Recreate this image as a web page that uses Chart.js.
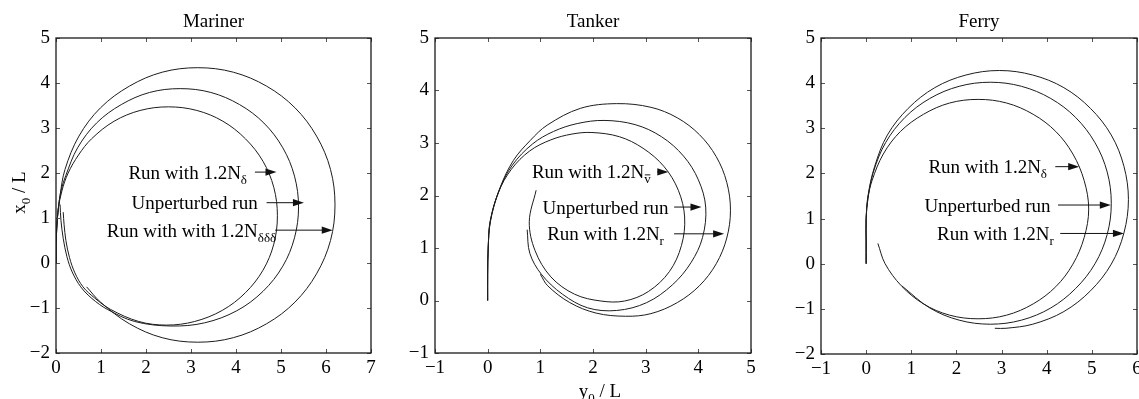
<!DOCTYPE html>
<html>
<head>
<meta charset="utf-8">
<script src="https://cdn.jsdelivr.net/npm/chart.js@4.4.1/dist/chart.umd.min.js"></script>
<style>
  html, body { margin: 0; padding: 0; background: #fff; overflow: hidden; }
  #fig { position: relative; width: 1139px; height: 399px; background: #fff; }
  #fig canvas { position: absolute; left: 0; top: 0; }
</style>
</head>
<body>
<div id="fig">
  <canvas id="mariner" width="1139" height="399"></canvas>
  <canvas id="tanker" width="1139" height="399"></canvas>
  <canvas id="ferry" width="1139" height="399"></canvas>
</div>
<script>
// ---- Turning-circle trajectories: [y0/L, x0/L] pairs ----

// Mariner
const marinerRudder = [[0,0],[0,0.4],[0.02,0.8],[0.05,1.2],[0.13,1.6],[0.27,2.0],[0.5,2.4],[0.79,2.76],[1.29,3.15],[1.87,3.39],[2.5,3.47],[3.13,3.39],[3.71,3.15],[4.21,2.76],[4.6,2.26],[4.84,1.68],[4.92,1.05],[4.84,0.42],[4.6,-0.16],[4.21,-0.66],[3.7,-1.05],[3.08,-1.3],[2.45,-1.38],[1.84,-1.3],[1.21,-1.03],[0.85,-0.77],[0.6,-0.53],[0.42,-0.22],[0.3,0.12],[0.22,0.5],[0.18,0.85],[0.16,1.13]];
const marinerBase = [[0,0],[0,0.4],[0.02,0.8],[0.05,1.2],[0.11,1.6],[0.22,1.95],[0.48,2.56],[0.9,3.11],[1.45,3.52],[2.08,3.79],[2.76,3.875],[3.44,3.79],[4.08,3.52],[4.62,3.11],[5.04,2.56],[5.3,1.93],[5.39,1.245],[5.3,0.56],[5.04,-0.07],[4.6,-0.63],[4.02,-1.06],[3.3,-1.33],[2.55,-1.4],[1.75,-1.3],[1.14,-1.03],[0.8,-0.79],[0.55,-0.53],[0.36,-0.2],[0.24,0.15],[0.16,0.55],[0.11,0.95],[0.09,1.3]];
const marinerCubic = [[0,0],[0,0.5],[0.03,1.0],[0.09,1.5],[0.2,2.08],[0.51,2.82],[0.99,3.45],[1.63,3.93],[2.36,4.24],[3.15,4.34],[3.94,4.24],[4.68,3.93],[5.31,3.45],[5.79,2.82],[6.1,2.08],[6.2,1.29],[6.1,0.5],[5.79,-0.24],[5.31,-0.87],[4.68,-1.35],[3.94,-1.66],[3.15,-1.76],[2.36,-1.66],[1.63,-1.35],[0.99,-0.87],[0.68,-0.53]];

// Tanker
const tankerSway = [[0,0],[0,0.5],[0.01,1.0],[0.05,1.5],[0.2,2.05],[0.45,2.5],[0.8,2.85],[1.2,3.06],[1.6,3.17],[1.98,3.2],[2.5,3.12],[2.95,2.9],[3.35,2.55],[3.62,2.1],[3.74,1.59],[3.68,1.05],[3.45,0.55],[3.05,0.17],[2.6,-0.01],[2.15,-0.01],[1.65,0.12],[1.2,0.45],[0.9,0.95],[0.79,1.5],[0.92,2.1]];
const tankerBase = [[0,0],[0,0.5],[0.01,1.0],[0.05,1.5],[0.22,2.1],[0.47,2.58],[0.85,2.98],[1.25,3.22],[1.7,3.37],[2.21,3.43],[2.8,3.35],[3.3,3.12],[3.72,2.75],[4.0,2.3],[4.14,1.78],[4.08,1.2],[3.86,0.72],[3.51,0.3],[3.02,-0.04],[2.45,-0.19],[1.9,-0.14],[1.42,0.12],[1.02,0.5],[0.8,0.9],[0.75,1.35]];
const tankerYaw = [[0,0],[0,0.5],[0.01,1.0],[0.05,1.53],[0.24,2.16],[0.49,2.67],[0.81,3.05],[1.13,3.34],[1.76,3.66],[2.45,3.75],[3.1,3.68],[3.6,3.48],[4.02,3.16],[4.34,2.74],[4.54,2.25],[4.61,1.72],[4.54,1.19],[4.34,0.7],[4.02,0.28],[3.6,-0.04],[3.1,-0.25],[2.62,-0.3],[2.06,-0.24],[1.56,-0.04],[1.14,0.28],[1.0,0.5]];

// Ferry
const ferryRudder = [[0,0],[0,0.5],[0,1.0],[0.04,1.45],[0.13,1.84],[0.38,2.43],[0.76,2.93],[1.27,3.31],[1.85,3.56],[2.48,3.64],[3.11,3.56],[3.7,3.31],[4.2,2.93],[4.58,2.43],[4.83,1.84],[4.93,1.21],[4.83,0.58],[4.58,-0.01],[4.2,-0.51],[3.7,-0.89],[3.11,-1.14],[2.48,-1.22],[1.85,-1.14],[1.27,-0.89],[0.78,-0.49],[0.42,0.0],[0.26,0.45]];
const ferryBase = [[0,0],[0,0.5],[0,1.0],[0.04,1.45],[0.16,2.03],[0.43,2.68],[0.86,3.24],[1.41,3.66],[2.06,3.93],[2.75,4.02],[3.44,3.93],[4.09,3.66],[4.64,3.24],[5.07,2.68],[5.34,2.03],[5.43,1.34],[5.34,0.65],[5.07,0.0],[4.64,-0.55],[4.09,-0.98],[3.44,-1.25],[2.75,-1.34],[2.06,-1.25],[1.41,-0.98],[0.79,-0.49]];
const ferryYaw = [[0,0],[0,0.5],[0,1.0],[0.04,1.5],[0.19,2.16],[0.47,2.85],[0.93,3.44],[1.52,3.9],[2.21,4.18],[2.95,4.28],[3.69,4.18],[4.38,3.9],[4.97,3.44],[5.43,2.85],[5.71,2.16],[5.81,1.42],[5.71,0.68],[5.43,-0.01],[4.97,-0.6],[4.38,-1.06],[3.69,-1.34],[3.1,-1.43],[2.85,-1.43]];

// Tick values
const marinerXTicks = [0, 1, 2, 3, 4, 5, 6, 7];
const marinerYTicks = [-2, -1, 0, 1, 2, 3, 4, 5];
const tankerXTicks = [-1, 0, 1, 2, 3, 4, 5];
const tankerYTicks = [-1, 0, 1, 2, 3, 4, 5];
const ferryXTicks = [-1, 0, 1, 2, 3, 4, 5, 6];
const ferryYTicks = [-2, -1, 0, 1, 2, 3, 4, 5];

// Callout labels: text, subscript, text start, arrow height, arrow tail and tip
const marinerNotes = [
  { text: 'Run with 1.2N', sub: 'δ', start: 1.61, at: 2.02, from: 4.42, to: 4.90 },
  { text: 'Unperturbed run', sub: '', start: 1.68, at: 1.34, from: 4.68, to: 5.51 },
  { text: 'Run with with 1.2N', sub: 'δδδ', start: 1.13, at: 0.73, from: 4.87, to: 6.15 }
];
const tankerNotes = [
  { text: 'Run with 1.2N', sub: 'v', bar: true, start: 0.84, at: 2.45, from: 3.22, to: 3.43 },
  { text: 'Unperturbed run', sub: '', start: 1.04, at: 1.78, from: 3.54, to: 4.06 },
  { text: 'Run with 1.2N', sub: 'r', start: 1.13, at: 1.27, from: 3.54, to: 4.49 }
];
const ferryNotes = [
  { text: 'Run with 1.2N', sub: 'δ', start: 1.38, at: 2.15, from: 4.19, to: 4.72 },
  { text: 'Unperturbed run', sub: '', start: 1.29, at: 1.30, from: 4.25, to: 5.42 },
  { text: 'Run with 1.2N', sub: 'r', start: 1.57, at: 0.67, from: 4.30, to: 5.71 }
];

// ---- drawing ----
const SERIF = '"Liberation Serif", "Times New Roman", serif';
const MAIN_PX = 19;
const SUB_PX = 13;
const Y_AXIS_W = 50;
const X_AXIS_H = 30;
const fmt = v => (v < 0 ? '\u2212' + Math.abs(v) : String(v));

function drawSubscripted(ctx, x, baseline, main, sub, bar) {
  ctx.font = MAIN_PX + 'px ' + SERIF;
  ctx.textAlign = 'left';
  ctx.textBaseline = 'alphabetic';
  ctx.fillText(main, x, baseline);
  let w = ctx.measureText(main).width;
  if (sub) {
    ctx.font = SUB_PX + 'px ' + SERIF;
    ctx.fillText(sub, x + w, baseline + 5);
    const sw = ctx.measureText(sub).width;
    if (bar) {
      ctx.beginPath();
      ctx.lineWidth = 0.9;
      ctx.moveTo(x + w + 0.5, baseline - 3.5);
      ctx.lineTo(x + w + sw - 0.5, baseline - 3.5);
      ctx.stroke();
    }
    w += sw;
  }
  return w;
}

function measureParts(ctx, parts) {
  let w = 0;
  parts.forEach(p => {
    ctx.font = (p.sub ? SUB_PX : MAIN_PX) + 'px ' + SERIF;
    w += ctx.measureText(p.t).width;
  });
  return w;
}

function drawParts(ctx, x, baseline, parts) {
  ctx.textAlign = 'left';
  ctx.textBaseline = 'alphabetic';
  parts.forEach(p => {
    ctx.font = (p.sub ? SUB_PX : MAIN_PX) + 'px ' + SERIF;
    ctx.fillText(p.t, x, baseline + (p.sub ? 5 : 0));
    x += ctx.measureText(p.t).width;
  });
}

const panelDecor = {
  id: 'panelDecor',
  afterDraw(chart, args, opts) {
    const { ctx, chartArea: a, scales: { x, y } } = chart;
    ctx.save();

    // inward tick marks on all four sides
    ctx.beginPath();
    ctx.lineWidth = 1;
    ctx.strokeStyle = '#555';
    x.ticks.forEach(t => {
      const px = Math.round(x.getPixelForValue(t.value)) + 0.5;
      ctx.moveTo(px, a.bottom); ctx.lineTo(px, a.bottom - 4);
      ctx.moveTo(px, a.top); ctx.lineTo(px, a.top + 4);
    });
    y.ticks.forEach(t => {
      const py = Math.round(y.getPixelForValue(t.value)) + 0.5;
      ctx.moveTo(a.left, py); ctx.lineTo(a.left + 4, py);
      ctx.moveTo(a.right, py); ctx.lineTo(a.right - 4, py);
    });
    ctx.stroke();

    // frame
    ctx.strokeStyle = '#1a1a1a';
    ctx.lineWidth = 1.3;
    ctx.strokeRect(a.left, a.top, a.right - a.left, a.bottom - a.top);

    // panel title
    ctx.fillStyle = '#000';
    ctx.font = MAIN_PX + 'px ' + SERIF;
    ctx.textAlign = 'center';
    ctx.textBaseline = 'alphabetic';
    ctx.fillText(opts.title, (a.left + a.right) / 2, 27);

    // callouts with arrows
    (opts.notes || []).forEach(n => {
      const py = y.getPixelForValue(n.at);
      const tx = x.getPixelForValue(n.start);
      ctx.fillStyle = '#000';
      ctx.strokeStyle = '#000';
      drawSubscripted(ctx, tx, py + 6.5, n.text, n.sub, n.bar);
      const x1 = x.getPixelForValue(n.from);
      const x2 = x.getPixelForValue(n.to);
      ctx.strokeStyle = '#111';
      ctx.fillStyle = '#111';
      ctx.lineWidth = 1;
      ctx.beginPath();
      ctx.moveTo(x1, py);
      ctx.lineTo(x2 - 8, py);
      ctx.stroke();
      ctx.beginPath();
      ctx.moveTo(x2, py);
      ctx.lineTo(x2 - 11, py - 3.6);
      ctx.lineTo(x2 - 11, py + 3.6);
      ctx.closePath();
      ctx.fill();
    });

    // axis titles
    ctx.fillStyle = '#000';
    if (opts.yTitle) {
      const parts = opts.yTitle;
      const w = measureParts(ctx, parts);
      ctx.save();
      ctx.translate(opts.yTitleX, (a.top + a.bottom) / 2 - 3);
      ctx.rotate(-Math.PI / 2);
      drawParts(ctx, -w / 2, 0, parts);
      ctx.restore();
    }
    if (opts.xTitle) {
      const parts = opts.xTitle;
      const w = measureParts(ctx, parts);
      drawParts(ctx, (a.left + a.right) / 2 + 7 - w / 2, opts.xTitleY, parts);
    }
    ctx.restore();
  }
};

function curve(points) {
  return {
    data: points.map(([px, py]) => ({ x: px, y: py })),
    showLine: true,
    borderColor: '#1c1c1c',
    borderWidth: 1,
    pointRadius: 0,
    tension: 0.35,
    fill: false
  };
}

function makePanel(id, box, xr, yr, xTicks, yTicks, series, decor) {
  const W = 1139, H = 399;
  const tickFont = { family: SERIF, size: MAIN_PX };
  return new Chart(document.getElementById(id), {
    type: 'scatter',
    data: { datasets: series.map(curve) },
    options: {
      responsive: false,
      animation: false,
      devicePixelRatio: 1,
      events: [],
      layout: { padding: {
        left: box.left - Y_AXIS_W, top: box.top,
        right: W - box.right, bottom: H - box.bottom - X_AXIS_H } },
      plugins: { legend: { display: false }, tooltip: { enabled: false }, panelDecor: decor },
      scales: {
        x: {
          type: 'linear', min: xr[0], max: xr[1],
          afterBuildTicks: s => { s.ticks = xTicks.map(v => ({ value: v })); },
          afterFit: s => { s.height = X_AXIS_H; s.paddingLeft = 0; s.paddingRight = 0; },
          grid: { display: false, drawTicks: false },
          border: { display: false },
          ticks: { font: tickFont, color: '#000', padding: 4, maxRotation: 0, autoSkip: false, callback: fmt }
        },
        y: {
          type: 'linear', min: yr[0], max: yr[1],
          afterBuildTicks: s => { s.ticks = yTicks.map(v => ({ value: v })); },
          afterFit: s => { s.width = Y_AXIS_W; s.paddingTop = 0; s.paddingBottom = 0; },
          grid: { display: false, drawTicks: false },
          border: { display: false },
          ticks: { font: tickFont, color: '#000', padding: 6, autoSkip: false, callback: fmt }
        }
      }
    },
    plugins: [panelDecor]
  });
}

makePanel('mariner', { left: 56, right: 371, top: 38, bottom: 353 }, [0, 7], [-2, 5],
  marinerXTicks, marinerYTicks, [marinerRudder, marinerBase, marinerCubic],
  { title: 'Mariner', notes: marinerNotes,
    yTitle: [{ t: 'x' }, { t: '0', sub: true }, { t: ' / L' }], yTitleX: 25 });

makePanel('tanker', { left: 435, right: 751, top: 38, bottom: 353 }, [-1, 5], [-1, 5],
  tankerXTicks, tankerYTicks, [tankerSway, tankerBase, tankerYaw],
  { title: 'Tanker', notes: tankerNotes,
    xTitle: [{ t: 'y' }, { t: '0', sub: true }, { t: ' / L' }], xTitleY: 397 });

makePanel('ferry', { left: 821, right: 1137, top: 38, bottom: 354 }, [-1, 6], [-2, 5],
  ferryXTicks, ferryYTicks, [ferryRudder, ferryBase, ferryYaw],
  { title: 'Ferry', notes: ferryNotes });
</script>
</body>
</html>
